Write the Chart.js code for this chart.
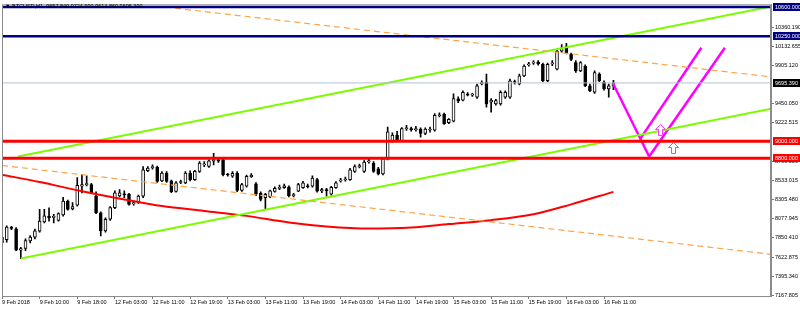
<!DOCTYPE html>
<html lang="en">
<head>
<meta charset="UTF-8">
<title>BTCUSD,H1</title>
<script src="https://cdn.jsdelivr.net/npm/chart.js"></script>
<style>
  html, body { margin: 0; padding: 0; background: #fff; }
  canvas { display: block; }
</style>
</head>
<body>
<canvas id="chart" width="800" height="309"></canvas>
<script>
// ---- data (H1 candles, index 0 = 9 Feb 02:00) ----
const opens = [7790,7830,7980,7960,7705,7725,7815,7860,7930,8040,8110,8095,8060,8125,8290,8195,8240,8466,8485,8485,
  8350,8150,7935,8073,8211,8350,8375,8368,8255,8270,8348,8650,8685,8690,8530,8622,8530,8405,8510,8505,
  8620,8544,8642,8720,8701,8765,8779,8779,8605,8585,8622,8415,8466,8580,8495,8380,8329,8340,8405,8440,
  8450,8455,8355,8407,8450,8470,8466,8544,8410,8425,8370,8450,8530,8540,8544,8642,8700,8642,8755,8740,
  8674,8611,8791,9003,9074,9003,9150,9150,9140,9145,9093,9135,9133,9305,9320,9223,9240,9505,9490,9560,
  9550,9525,9682,9701,9466,9446,9446,9525,9525,9705,9682,9780,9910,9930,9944,9917,9721,9920,9858,10074,
  10133,10035,9937,9839,9897,9662,9584,9799,9701,9623,9657.84];
const highs = [7900,7995,7990,7975,7740,7840,7880,7955,8190,8190,8210,8130,8150,8335,8300,8270,8570,8603,8590,8500,
  8400,8160,8090,8225,8410,8426,8410,8380,8290,8360,8700,8700,8720,8705,8640,8640,8540,8520,8540,8640,
  8650,8655,8760,8760,8780,8858,8800,8790,8620,8640,8640,8500,8600,8615,8510,8400,8380,8420,8460,8480,
  8490,8470,8380,8500,8525,8490,8590,8560,8440,8440,8465,8520,8560,8575,8680,8720,8730,8770,8790,8760,
  8690,8800,9170,9100,9120,9165,9190,9170,9180,9160,9160,9170,9330,9340,9335,9270,9564,9530,9600,9580,
  9570,9680,9721,9799,9510,9500,9600,9600,9740,9730,9800,9910,9940,9960,9960,9930,9930,9960,10090,10150,
  10165,10050,9960,9950,9910,9680,9840,9815,9720,9680,9724.99];
const lows = [7760,7800,7950,7700,7605,7700,7790,7840,7920,8030,8050,8030,8050,8110,8180,8185,8230,8387,8470,8380,
  8140,7875,7920,8060,8200,8340,8330,8240,8240,8260,8330,8640,8670,8510,8520,8510,8390,8395,8495,8495,
  8530,8535,8630,8700,8690,8720,8750,8590,8585,8570,8400,8405,8455,8570,8355,8290,8191,8330,8395,8425,
  8440,8340,8340,8400,8440,8445,8455,8395,8390,8348,8360,8440,8515,8525,8535,8630,8685,8630,8740,8630,
  8600,8600,8780,8990,8995,8995,9130,9120,9120,9050,9080,9110,9120,9290,9200,9210,9230,9460,9480,9540,
  9535,9510,9670,9407,9348,9430,9430,9510,9510,9680,9670,9770,9895,9915,9905,9710,9710,9900,9850,10060,
  10040,9960,9820,9830,9650,9590,9570,9710,9610,9525,9614.86];
const closes = [7860,7980,7965,7705,7725,7820,7860,7935,8050,8115,8090,8105,8140,8290,8190,8225,8478,8485,8490,8390,
  8150,7935,8073,8211,8387,8387,8365,8250,8270,8348,8662,8681,8700,8524,8622,8524,8400,8505,8520,8622,
  8544,8642,8740,8730,8767,8779,8765,8603,8600,8620,8415,8485,8583,8595,8370,8309,8368,8410,8440,8450,
  8470,8350,8360,8485,8505,8460,8564,8407,8425,8410,8454,8505,8535,8552,8662,8701,8705,8752,8760,8642,
  8611,8791,9113,9074,9003,9152,9160,9140,9150,9093,9145,9140,9309,9315,9211,9262,9510,9480,9584,9550,
  9555,9662,9700,9446,9490,9486,9584,9584,9721,9700,9780,9897,9917,9944,9920,9721,9917,9935,10074,10113,
  10054,9976,9839,9937,9662,9603,9819,9721,9623,9662,9695.39];

// moving average (red curve), sampled along the bars
const maIdx = [0, 8, 17, 26, 34, 43, 52, 61, 69, 78, 87, 95, 104, 113, 121, 130];
const maVal = [8603, 8516, 8407, 8309, 8230, 8172, 8113, 8034, 7987, 7963, 7975, 8015, 8062, 8133, 8250, 8399];

// x axis labels every 8 bars
const xTickIdx = [0, 8, 16, 24, 32, 40, 48, 56, 64, 72, 80, 88, 96, 104, 112, 120, 128];
const xTickLabels = ['9 Feb 2018', '9 Feb 10:00', '9 Feb 18:00', '12 Feb 03:00', '12 Feb 11:00', '12 Feb 19:00',
  '13 Feb 03:00', '13 Feb 11:00', '13 Feb 19:00', '14 Feb 03:00', '14 Feb 11:00', '14 Feb 19:00',
  '15 Feb 03:00', '15 Feb 11:00', '15 Feb 19:00', '16 Feb 03:00', '16 Feb 11:00'];

// price scale labels
const yTicks = [7167.805, 7395.340, 7622.875, 7850.410, 8077.945, 8305.480, 8533.015, 8760.550,
  9222.515, 9450.050, 9905.120, 10132.655, 10360.190];

// horizontal levels
const navyLevels = [10600, 10250];
const redLevels = [9000, 8800];
const lastPrice = 9695.39;

// drawn objects as [bar index, price]
const greenLow = [[4, 7605], [163.5, 9389]];
const greenHigh = [[3.4, 8819], [163.5, 10604]];
const orangeHigh = [[36.8, 10584], [163.5, 9767]];
const orangeLow = [[0, 8713], [163.5, 7656]];
const pinkDown = [[130, 9680], [137.6, 8819]];
const pinkUp1 = [[135.7, 9030], [148.7, 10113]];
const pinkUp2 = [[137.6, 8819], [153.7, 10113]];
const arrowPts = [[139.8, 9133], [142.7, 8916]];

const X_MIN = 0, X_MAX = 163.5;
const Y_MIN = 7159.6, Y_MAX = 10630.8;
const FONT = 'Liberation Sans';

function seg(pts, color, width, dash) {
  return {
    type: 'line',
    data: pts.map(p => ({ x: p[0], y: p[1] })),
    borderColor: color,
    borderWidth: width,
    borderDash: dash || [],
    pointRadius: 0,
    fill: false,
    tension: 0,
    clip: 0,
    order: 0
  };
}
function level(v, color, width) {
  return seg([[X_MIN - 1, v], [X_MAX + 1, v]], color, width);
}

const datasets = [
  level(lastPrice, '#b4c2d6', 1),
  ...navyLevels.map(v => level(v, '#000080', 2.5)),
  ...redLevels.map(v => level(v, '#ff0000', 3)),
  seg(orangeHigh, '#ffa347', 1.2, [6, 4]),
  seg(orangeLow, '#ffa347', 1.2, [6, 4]),
  seg(greenHigh, '#7cfc00', 2),
  seg(greenLow, '#7cfc00', 2),
  {
    type: 'line',
    data: maIdx.map((x, i) => ({ x: x, y: maVal[i] })),
    borderColor: '#ff0000',
    borderWidth: 2,
    pointRadius: 0,
    cubicInterpolationMode: 'monotone',
    order: 0
  },
  seg(pinkDown, '#ff00ff', 2.5),
  seg(pinkUp1, '#ff00ff', 2.5),
  seg(pinkUp2, '#ff00ff', 2.5),
  {
    type: 'bar',
    data: opens.map((o, i) => ({ x: i, y: [lows[i], highs[i]] })),
    backgroundColor: '#000',
    barThickness: 1,
    grouped: false,
    order: 3
  },
  {
    type: 'bar',
    data: opens.map((o, i) => ({ x: i, y: [o, closes[i]] })),
    backgroundColor: opens.map((o, i) => closes[i] >= o ? '#fff' : '#000'),
    borderColor: '#000',
    borderWidth: 1,
    borderSkipped: false,
    barThickness: 3,
    minBarLength: 1,
    grouped: false,
    order: 2
  }
];

const tags = [
  { v: 10600, bg: '#000080' },
  { v: 10250, bg: '#000080' },
  { v: lastPrice, bg: '#000000' },
  { v: 9000, bg: '#ff0000' },
  { v: 8800, bg: '#ff0000' }
];

const overlay = {
  id: 'overlay',
  beforeDraw(chart) {
    const c = chart.ctx;
    c.save();
    c.fillStyle = '#fff';
    c.fillRect(0, 0, chart.width, chart.height);
    c.restore();
  },
  afterDraw(chart) {
    const c = chart.ctx;
    const a = chart.chartArea;
    const xs = chart.scales.x, ys = chart.scales.y;
    c.save();
    // frame
    c.strokeStyle = '#8c8c8c';
    c.lineWidth = 1;
    c.strokeRect(a.left + 0.5, a.top + 0.5, a.right - a.left - 1, a.bottom - a.top);
    // hollow up arrows
    c.strokeStyle = '#ff33ff';
    c.fillStyle = '#fff';
    arrowPts.forEach(p => {
      const x = Math.round(xs.getPixelForValue(p[0])) + 0.5;
      const y = Math.round(ys.getPixelForValue(p[1])) + 0.5;
      c.beginPath();
      c.moveTo(x, y - 6);
      c.lineTo(x + 5, y - 1);
      c.lineTo(x + 2, y - 1);
      c.lineTo(x + 2, y + 5);
      c.lineTo(x - 2, y + 5);
      c.lineTo(x - 2, y - 1);
      c.lineTo(x - 5, y - 1);
      c.closePath();
      c.fill();
      c.stroke();
    });
    // price tags on the axis
    c.font = '5.5px "' + FONT + '"';
    c.textBaseline = 'middle';
    c.textAlign = 'left';
    tags.forEach(t => {
      const y = Math.round(ys.getPixelForValue(t.v));
      c.fillStyle = t.bg;
      c.fillRect(a.right + 2, y - 4, chart.width - a.right - 2, 8);
      c.fillStyle = '#fff';
      c.fillText(t.v.toFixed(3), a.right + 4, y + 0.5);
    });
    // symbol header
    const n = opens.length - 1;
    c.fillStyle = '#000';
    c.font = '5.5px "' + FONT + '"';
    c.fillText('\u25BC BTCUSD,H1  ' + [opens[n], highs[n], lows[n], closes[n]].map(v => v.toFixed(3)).join(' '), 5, 6);
    c.restore();
  }
};

new Chart(document.getElementById('chart'), {
  type: 'bar',
  data: { datasets: datasets },
  options: {
    responsive: false,
    animation: false,
    devicePixelRatio: 1,
    layout: { padding: { left: 2, top: 1, right: 0, bottom: 0 } },
    plugins: { legend: { display: false }, tooltip: { enabled: false } },
    scales: {
      x: {
        type: 'linear',
        min: X_MIN,
        max: X_MAX,
        offset: false,
        grid: { drawOnChartArea: false, drawTicks: true, tickLength: 3, color: '#777', offset: false },
        border: { display: true, color: '#8c8c8c' },
        ticks: {
          autoSkip: false,
          maxRotation: 0,
          align: 'start',
          padding: 0,
          color: '#000',
          font: { family: FONT, size: 5.5 },
          callback: v => {
            const k = xTickIdx.indexOf(v);
            return k >= 0 ? xTickLabels[k] : '';
          }
        },
        afterBuildTicks: s => { s.ticks = xTickIdx.map(v => ({ value: v })); },
        afterFit: s => { s.height = 13; }
      },
      y: {
        type: 'linear',
        position: 'right',
        min: Y_MIN,
        max: Y_MAX,
        grid: { drawOnChartArea: false, drawTicks: true, tickLength: 3, color: '#777' },
        border: { display: true, color: '#8c8c8c' },
        ticks: {
          padding: 1,
          color: '#000',
          font: { family: FONT, size: 5.5 },
          callback: v => v.toFixed(3)
        },
        afterBuildTicks: s => { s.ticks = yTicks.map(v => ({ value: v })); },
        afterFit: s => { s.width = 29; }
      }
    }
  },
  plugins: [overlay]
});
</script>
</body>
</html>
